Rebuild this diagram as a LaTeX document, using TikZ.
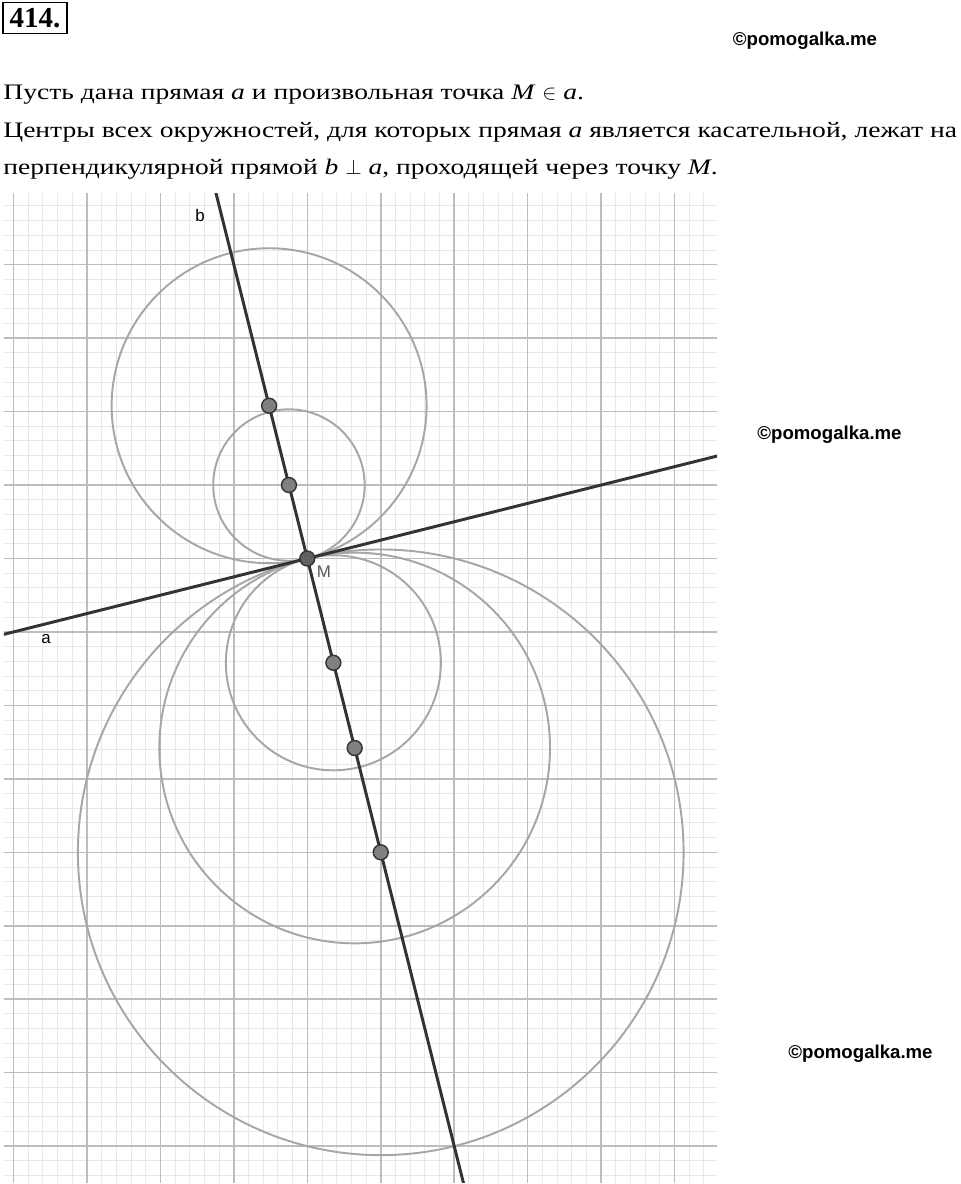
\documentclass[tikz,border=0pt]{standalone}
\usepackage{fontspec}
\setmainfont{Liberation Serif}
\newfontfamily\bodyfont[FakeStretch=1.245]{Liberation Serif}
\newfontfamily\wm{Liberation Sans}
\begin{document}
\begin{tikzpicture}[x=1cm,y=1cm]
\tikzset{
 body/.style={anchor=base west, inner sep=0, font=\bodyfont\fontsize{12.6}{15}\selectfont},
 wmark/.style={anchor=base, inner sep=0, font=\wm\bfseries\fontsize{10.6}{12}\selectfont},
 minorgrid/.style={draw=black!9, line width=0.55pt},
 majorgrid/.style={draw=black!26, line width=0.85pt},
 geoline/.style={draw=black!80, line width=1.7pt},
 circ/.style={draw=black!35, line width=1.1pt},
 ctr/.style={circle, fill=black!50, draw=black!80, line width=0.8pt, minimum size=8.5pt, inner sep=0},
 mpt/.style={circle, fill=black!62, draw=black!80, line width=0.8pt, minimum size=8.5pt, inner sep=0},
 lbl/.style={inner sep=0, font=\wm\fontsize{9.6}{11}\selectfont}
}
\useasboundingbox (0,0) rectangle (19.2,-23.68);
% header
\node[draw, line width=1.1pt, minimum width=1.28cm, minimum height=0.62cm, inner sep=0,
      font=\bfseries\fontsize{16.5}{18}\selectfont] (num) at (0.70,-0.36) {414.};
\node[wmark] (wm1) at (16.1,-0.914) {©pomogalka.me};
\node[wmark] (wm2) at (16.59,-8.786) {©pomogalka.me};
\node[wmark] (wm3) at (17.21,-21.166) {©pomogalka.me};
\node[body] (t1) at (0.06,-2.00) {Пусть дана прямая \textit{a} и произвольная точка \textit{M}~$\in$~\textit{a}.};
\node[body] (t2) at (0.06,-2.75) {Центры всех окружностей, для которых прямая \textit{a} является касательной, лежат на};
\node[body] (t3) at (0.06,-3.50) {перпендикулярной прямой \textit{b}~$\perp$~\textit{a}, проходящей через точку \textit{M}.};
% geometry
\begin{scope}[shift={(6.146,-11.17)}, x=1.469cm, y=1.469cm]
 \clip (-4.13,-8.489) rectangle (5.578,4.963);
 \foreach \i in {-21,...,28} \draw[minorgrid] (\i/5,-8.6) -- (\i/5,5.1);
 \foreach \j in {-43,...,25} \draw[minorgrid] (-4.2,\j/5) -- (5.7,\j/5);
 \foreach \i in {-4,...,5} \draw[majorgrid] (\i,-8.6) -- (\i,5.1);
 \foreach \j in {-8,...,4} \draw[majorgrid] (-4.2,\j) -- (5.7,\j);
 \coordinate (c1) at (-0.52,2.08);
 \coordinate (c2) at (-0.25,1);
 \coordinate (c3) at (0.355,-1.42);
 \coordinate (c4) at (0.645,-2.58);
 \coordinate (c5) at (1,-4);
 \draw[circ] (c1) circle[radius=2.144];
 \draw[circ] (c2) circle[radius=1.0308];
 \draw[circ] (c3) circle[radius=1.4637];
 \draw[circ] (c4) circle[radius=2.6594];
 \draw[circ] (c5) circle[radius=4.1231];
 \coordinate (aL) at (-4.4,-1.1);
 \coordinate (aR) at (5.8,1.45);
 \coordinate (bT) at (-1.3,5.2);
 \coordinate (bB) at (2.15,-8.6);
 \draw[geoline] (aL) -- (aR);
 \draw[geoline] (bT) -- (bB);
 \node[ctr] (p1) at (c1) {};
 \node[ctr] (p2) at (c2) {};
 \node[ctr] (p3) at (c3) {};
 \node[ctr] (p4) at (c4) {};
 \node[ctr] (p5) at (c5) {};
 \node[mpt] (M) at (0,0) {};
 \node[lbl, text=black!65] (lM) at (0.227,-0.184) {M};
 \node[lbl] (la) at (-3.557,-1.09) {a};
 \node[lbl] (lb) at (-1.461,4.677) {b};
\end{scope}
\end{tikzpicture}
\end{document}
